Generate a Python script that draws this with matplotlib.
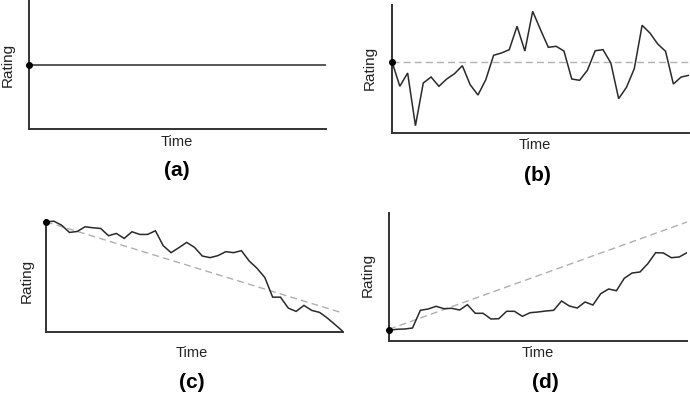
import matplotlib
matplotlib.use("Agg")
import matplotlib.pyplot as plt
import numpy as np

plt.rcParams['font.family'] = ['Liberation Sans', 'DejaVu Sans']

# ---- data (ratings over 39 time steps) ----
time_steps = list(range(39))

rating_a = [64] * 39

rating_b = [71.3, 46.7, 60, 7.3, 50, 56, 46.7, 54, 59.3, 67.3, 48.3, 38, 53.3,
            77.7, 80, 83.3, 106.7, 82, 121.7, 103.3, 85.7, 86.7, 82, 54, 52.7,
            62.7, 82.3, 83.3, 70, 34.3, 45.7, 64.3, 107.7, 100, 89, 81.7, 49,
            56, 57.7]
trend_b = [71.3, 71.3]

rating_c = [110.7, 111.3, 107.3, 100, 101, 105.7, 104.7, 104, 96.7, 99, 94,
            100.7, 98, 98, 101.7, 86.7, 79.7, 84.7, 90, 85, 76.3, 74.7, 76.7,
            80.7, 79.7, 81.7, 71.3, 64, 54.7, 35, 35, 24, 20.7, 26.7, 21.7,
            19.7, 14, 7.3, 0.5]
trend_c = [110.7, 19]

rating_d = [10.7, 11.7, 12, 13, 30.7, 32, 34.7, 32.3, 32.7, 31, 36.3, 27.7,
            27.7, 22, 22.3, 29.7, 29.7, 24.7, 28.3, 29, 30, 30.7, 40, 35, 33,
            39, 36, 47.3, 52, 50.3, 62.7, 68, 69, 77.3, 88.3, 88, 83.3, 84,
            88.3]
trend_d = [11.7, 119]

panel_labels = ['(a)', '(b)', '(c)', '(d)']
x_label = 'Time'
y_label = 'Rating'

W, H = 690, 393
fig = plt.figure(figsize=(W / 100, H / 100), dpi=100)


def box(l, t, r, b):
    return [l / W, 1 - b / H, (r - l) / W, (b - t) / H]


def ftext(x, y, s, **kw):
    fig.text(x / W, 1 - y / H, s, ha='center', va='center', **kw)


panels = [
    dict(rect=box(29, 0, 326, 129), ylim=129, data=rating_a, trend=None,
         rating=(8, 65), time=(177, 142), lab=(177, 170)),
    dict(rect=box(392, 5, 689, 133), ylim=128, data=rating_b, trend=trend_b,
         rating=(370, 68), time=(535, 145), lab=(537, 175)),
    dict(rect=box(46, 220, 343, 332), ylim=112.5, data=rating_c, trend=trend_c,
         rating=(27, 281), time=(192, 353), lab=(192, 382)),
    dict(rect=box(389, 213, 687, 341), ylim=128, data=rating_d, trend=trend_d,
         rating=(368, 275), time=(538, 353), lab=(545, 382)),
]

line_col = '#2a2a2a'
spine_col = '#333333'
for p, lab in zip(panels, panel_labels):
    ax = fig.add_axes(p['rect'])
    if p['trend'] is not None:
        ax.plot([time_steps[0], time_steps[-1]], p['trend'], ls=(0, (5, 3)),
                color='#b0b0b0', lw=1.0, zorder=1)
    ax.plot(time_steps, p['data'], color=line_col, lw=1.1, zorder=2,
            solid_joinstyle='miter')
    ax.plot([time_steps[0]], [p['data'][0]], 'o', color='black', ms=4,
            zorder=3, clip_on=False)
    ax.set_xlim(0, 38)
    ax.set_ylim(0, p['ylim'])
    ax.set_xticks([])
    ax.set_yticks([])
    for s in ['top', 'right']:
        ax.spines[s].set_visible(False)
    for s in ['left', 'bottom']:
        ax.spines[s].set_color(spine_col)
        ax.spines[s].set_linewidth(1.4)
    ax.patch.set_alpha(0)
    ftext(*p['rating'], y_label, rotation=90, fontsize=11, color='#222222')
    ftext(*p['time'], x_label, fontsize=10.5, color='#222222')
    ftext(*p['lab'], lab, fontsize=15, fontweight='bold', color='black')

fig.savefig('out.png', dpi=100)
